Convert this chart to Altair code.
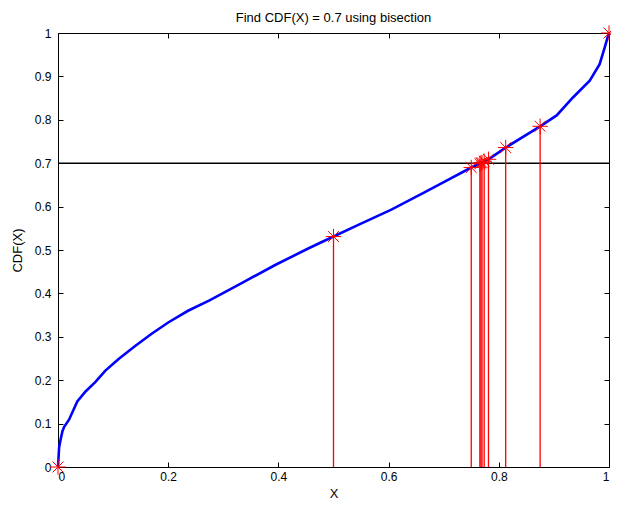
import altair as alt
import pandas as pd

# CDF curve
cdf_x = [0, 0.002, 0.005, 0.008, 0.011, 0.020, 0.035, 0.050, 0.068, 0.086, 0.110,
         0.140, 0.170, 0.200, 0.236, 0.275, 0.335, 0.395, 0.455, 0.500, 0.545,
         0.605, 0.665, 0.695, 0.750, 0.765625, 0.78125, 0.8125, 0.875, 0.905,
         0.935, 0.965, 0.983, 0.992, 0.998, 1.0]
cdf_y = [0, 0.045, 0.065, 0.082, 0.092, 0.109, 0.151, 0.174, 0.196, 0.222, 0.249,
         0.279, 0.307, 0.333, 0.360, 0.384, 0.425, 0.466, 0.504, 0.531, 0.558,
         0.593, 0.633, 0.653, 0.690, 0.699, 0.709, 0.736, 0.785, 0.810,
         0.852, 0.890, 0.928, 0.966, 0.992, 1.0]

# bisection points (first two are the bracket ends, which get no stem)
bis_x = [0, 1, 0.5, 0.75, 0.875, 0.8125, 0.78125, 0.765625, 0.7734375,
         0.76953125, 0.767578125]
bis_y = [0, 1, 0.531, 0.690, 0.785, 0.736, 0.709, 0.699, 0.7045, 0.7015, 0.7003]

target = [0.7]
x_ticks = [0, 0.2, 0.4, 0.6, 0.8, 1]
y_ticks = [0, 0.1, 0.2, 0.3, 0.4, 0.5, 0.6, 0.7, 0.8, 0.9, 1]

curve_df = pd.DataFrame({"x": cdf_x, "y": cdf_y})
bis_df = pd.DataFrame({"x": bis_x, "y": bis_y, "y0": [0] * len(bis_x)})
tgt_df = pd.DataFrame({"t": target})

FONT = "Liberation Sans"
xs = alt.Scale(domain=[0, 1], nice=False, zero=False)
ys = alt.Scale(domain=[0, 1], nice=False, zero=False)

common = dict(grid=False, domain=False, tickSize=5, offset=-5, tickColor="black",
              tickWidth=1, labelColor="black", labelFont=FONT, labelFontSize=12,
              titleFont=FONT, titleFontSize=13, titleFontWeight="normal",
              titleColor="black")

x_bottom = alt.Axis(values=x_ticks, format="~g", labelPadding=4, title="X",
                    titlePadding=5, **common)
y_left = alt.Axis(values=y_ticks, format="~g", labelPadding=7, title="CDF(X)",
                  titlePadding=10, **common)
x_top = alt.Axis(values=x_ticks, orient="top", labels=False, title=None, **common)
y_right = alt.Axis(values=y_ticks, orient="right", labels=False, title=None, **common)

curve = alt.Chart(curve_df).mark_line(color="#0000ff", strokeWidth=2.6).encode(
    x=alt.X("x:Q", scale=xs, axis=x_bottom),
    y=alt.Y("y:Q", scale=ys, axis=y_left),
    order="x:Q",
)

hline = alt.Chart(tgt_df).mark_rule(color="black", strokeWidth=1.5).encode(
    y=alt.Y("t:Q", scale=ys, axis=None)
)

stems = alt.Chart(bis_df).transform_filter(
    (alt.datum.x > 0) & (alt.datum.x < 1)
).mark_rule(color="#ff0000", strokeWidth=1.3).encode(
    x=alt.X("x:Q", scale=xs, axis=None),
    y=alt.Y("y0:Q", scale=ys, axis=None),
    y2="y:Q",
)

ASTERISK = "M-1,0L1,0M0,-1L0,1M-0.7,-0.7L0.7,0.7M-0.7,0.7L0.7,-0.7"
stars = alt.Chart(bis_df).mark_point(shape=ASTERISK, size=240, filled=False,
                                     color="#ff0000", strokeWidth=1,
                                     opacity=1).encode(
    x=alt.X("x:Q", scale=xs, axis=x_top),
    y=alt.Y("y:Q", scale=ys, axis=y_right),
)

chart = alt.layer(curve, hline, stems, stars).resolve_axis(
    x="independent", y="independent"
).properties(
    width=551,
    height=434,
    autosize="none",
    padding={"left": 50, "top": 25, "right": 2, "bottom": 41},
    background="white",
    title=alt.TitleParams("Find CDF(X) = 0.7 using bisection", font=FONT,
                          fontSize=13, fontWeight="normal", color="black",
                          offset=2, dy=4, anchor="middle"),
).configure_view(stroke="black", strokeWidth=1)

chart.save("out.html", embed_options={"renderer": "svg", "actions": False})
